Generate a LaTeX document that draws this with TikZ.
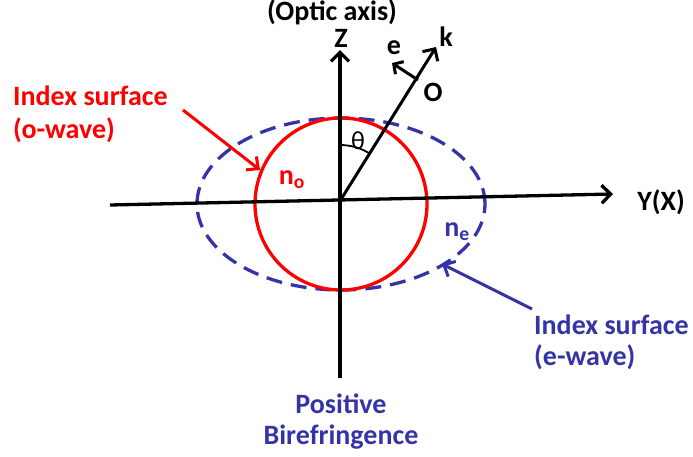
\documentclass[tikz,border=0pt]{standalone}
\usepackage{fontspec}
\setmainfont{Carlito}
\usetikzlibrary{arrows.meta}
\definecolor{ored}{RGB}{255,0,0}
\definecolor{eblue}{RGB}{52,52,168}

\begin{document}
\begin{tikzpicture}[x=1pt, y=1pt,
    every node/.style={font=\fontsize{28}{33}\selectfont\bfseries, inner sep=0pt},
    axis/.style={line width=3.3pt, -{Straight Barb[length=9pt, width=18pt]}},
    ptr/.style={line width=3pt, -{Straight Barb[length=9pt, width=17pt]}}]
    \useasboundingbox (-340,-255) rectangle (353,201);

    % Superficies de indice
    \draw[eblue, line width=3.3pt, dash pattern=on 16pt off 9pt] (1,-3) ellipse [x radius=144, y radius=86];
    \draw[ored, line width=3.3pt] (1,-3) circle [radius=86];

    % Ejes
    \coordinate (O) at (0,0);
    \coordinate (zbot) at (0,-177);
    \coordinate (ztop) at (0,151);
    \coordinate (yleft) at (-230,-4);
    \coordinate (yright) at (273,7);
    \draw[axis] (zbot) -- (ztop);
    \draw[axis] (yleft) -- (yright);

    % Vector k y vector e
    \coordinate (ktip) at (96,154);
    \coordinate (ebase) at (78,121);
    \coordinate (etip) at (52,138);
    \draw[axis, line width=3pt] (O) -- (ktip);
    \draw[axis, line width=3pt, -{Straight Barb[length=7pt, width=15pt]}] (ebase) -- (etip);
    \draw[line width=1.8pt] (0,56) arc [start angle=90, end angle=58, radius=56];

    % Etiquetas de los ejes
    \node (optic) at (-8,189) {(Optic axis)};
    \node (zlab) at (1,163) {Z};
    \node (ylab) at (321,-1) {Y(X)};
    \node (klab) at (106,164) {k};
    \node (elab) at (54,153) {e};
    \node (olab) at (93,109) {O};
    \node[font=\fontsize{26}{30}\selectfont] (theta) at (18,60) {θ};

    % Onda ordinaria (rojo)
    \node[ored, anchor=west] (oline1) at (-327,105) {Index surface};
    \node[ored, anchor=west] (oline2) at (-327,71) {(o-wave)};
    \node[ored] (no) at (-48,21) {n\textsubscript{o}};
    \coordinate (oarr1) at (-157,91);
    \coordinate (oarr2) at (-80,31);
    \draw[ptr, ored] (oarr1) -- (oarr2);

    % Onda extraordinaria (azul)
    \node[eblue] (ne) at (117,-31) {n\textsubscript{e}};
    \node[eblue, anchor=west] (eline1) at (194,-124) {Index surface};
    \node[eblue, anchor=west] (eline2) at (194,-156) {(e-wave)};
    \coordinate (earr1) at (192,-108);
    \coordinate (earr2) at (102,-63);
    \draw[ptr, eblue] (earr1) -- (earr2);

    % Titulo
    \node[eblue] (pos) at (1,-203) {Positive};
    \node[eblue] (bir) at (1,-236) {Birefringence};
\end{tikzpicture}
\end{document}
